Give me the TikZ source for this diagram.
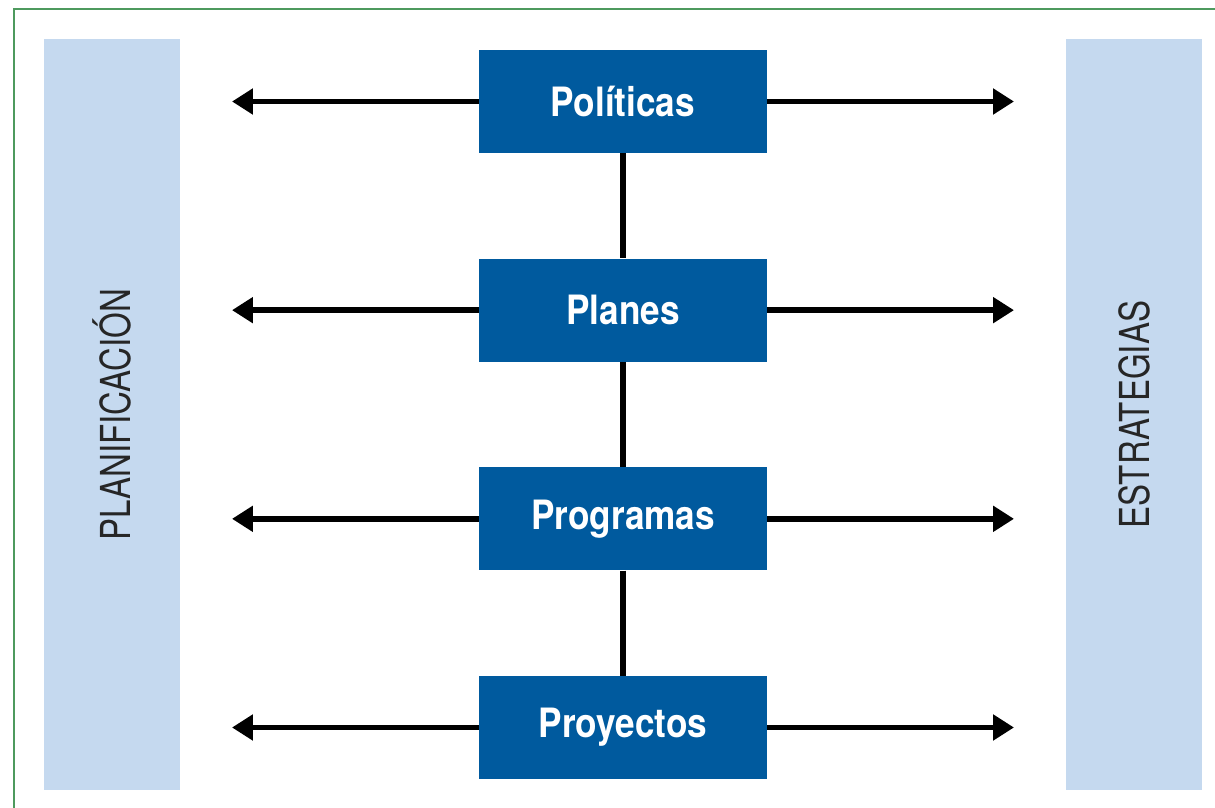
\documentclass[tikz,border=0pt]{standalone}
\usepackage{fontspec}
\setmainfont{TeX Gyre Heros}[FakeStretch=0.87]
\newfontfamily\sidefont{TeX Gyre Heros}[FakeStretch=0.8]
\usetikzlibrary{arrows.meta,positioning}
\definecolor{boxblue}{RGB}{0,90,158}
\definecolor{paleblue}{RGB}{197,217,239}
\definecolor{framegreen}{RGB}{78,154,94}
\tikzstyle{level} = [rectangle, fill=boxblue, minimum width=5.76cm, minimum height=2.06cm, text=white, inner sep=0pt, font=\fontsize{23}{28}\selectfont\bfseries]
\tikzstyle{side} = [rectangle, fill=paleblue, minimum width=15.02cm, minimum height=2.72cm, rotate=90, text=black!85, inner sep=0pt, font=\fontsize{23.5}{28}\selectfont\sidefont]
\tikzstyle{arr} = [draw, line width=1.15mm, -{Triangle[length=0.42cm,width=0.5cm]}]
\tikzstyle{link} = [draw, line width=1.15mm]

\begin{document}
\begin{tikzpicture}[x=0.02cm, y=-0.02cm, node distance=2.1cm]
    \useasboundingbox (0,0) rectangle (1215,808);
    \clip (0,0) rectangle (1215,808);
    \draw [framegreen, line width=0.04cm] (14,9) rectangle (1240,840);

    \node at (112,414.5) [side] (plan) {PLANIFICACIÓN};
    \node at (1134,414.5) [side] (estr) {ESTRATEGIAS};

    \node at (623,101.5) [level] (pol) {Políticas};
    \node [level, below=of pol] (pla) {Planes};
    \node [level, below=of pla] (prog) {Programas};
    \node [level, below=of prog] (proy) {Proyectos};

	\coordinate (ltip) at (232,0);
	\coordinate (rtip) at (1014,0);

	\foreach \n in {pol,pla,prog,proy} {
		\draw [arr] (\n.west) -- (\n.west -| ltip);
		\draw [arr] (\n.east) -- (\n.east -| rtip);
	}

	\draw [link] (pol) -- (pla);
	\draw [link] (pla) -- (prog);
	\draw [link] (prog) -- (proy);
\end{tikzpicture}
\end{document}
